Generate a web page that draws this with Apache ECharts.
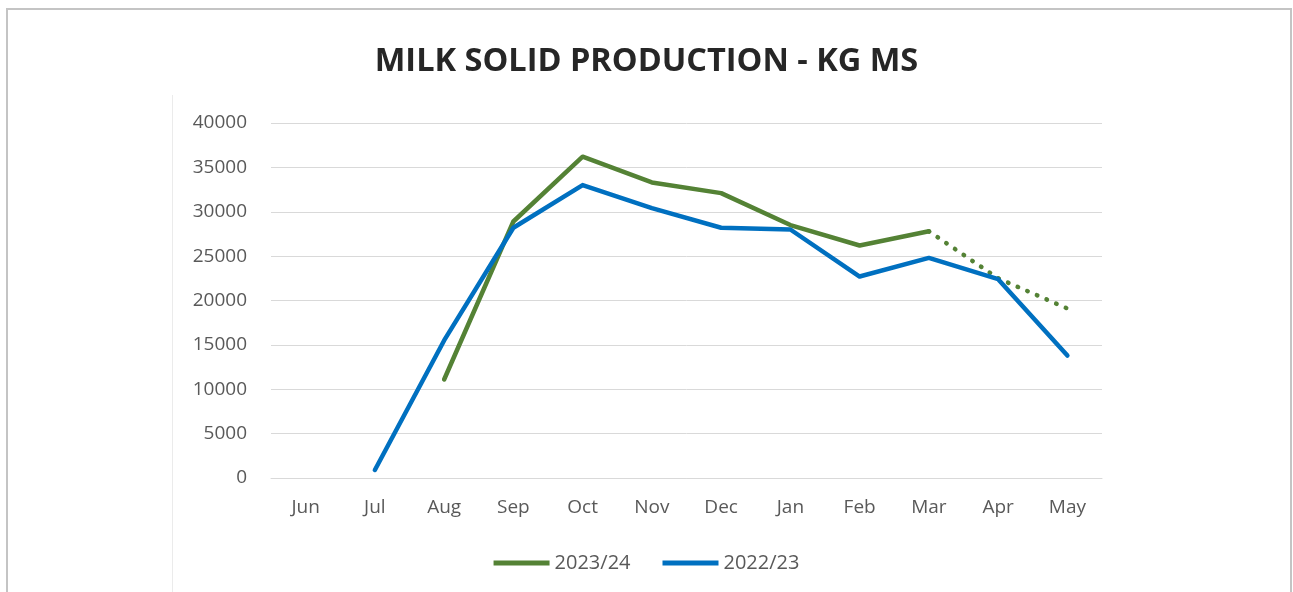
<!DOCTYPE html>
<html>
<head>
<meta charset="utf-8">
<title>Milk Solid Production - KG MS</title>
<script src="https://cdn.jsdelivr.net/npm/echarts@6/dist/echarts.min.js"></script>
<style>
  html, body { margin: 0; padding: 0; background: #ffffff; }
  #chart { width: 1293px; height: 592px; }
</style>
</head>
<body>
<div id="chart"></div>
<script>
// Season months (June to May)
const months = ['Jun', 'Jul', 'Aug', 'Sep', 'Oct', 'Nov', 'Dec', 'Jan', 'Feb', 'Mar', 'Apr', 'May'];

// Kg of milk solids per month
const season2324 = [null, null, 11100, 28900, 36200, 33300, 32100, 28500, 26200, 27800, null, null];
// Projected remainder of the 2023/24 season (dotted)
const forecast2324 = [null, null, null, null, null, null, null, null, null, 27800, 22500, 19100];
const season2223 = [null, 900, 15500, 28200, 33000, 30400, 28200, 28000, 22700, 24800, 22400, 13800];

// Y axis ticks
const yMin = 0;
const yMax = 40000;
const yStep = 5000;

const GREEN = '#548235';
const BLUE = '#0070C0';
const LABEL = '#595959';

const chart = echarts.init(document.getElementById('chart'), null, { renderer: 'canvas' });

chart.setOption({
  animation: false,
  backgroundColor: '#ffffff',
  title: {
    text: 'MILK SOLID PRODUCTION - KG MS',
    left: 'center',
    top: 40,
    textStyle: {
      fontFamily: 'Open Sans',
      fontWeight: 700,
      fontSize: 32.5,
      color: '#262626'
    }
  },
  graphic: [
    {
      type: 'rect',
      shape: { x: 7, y: 9, width: 1284, height: 600 },
      style: { fill: null, stroke: '#c4c4c4', lineWidth: 2 },
      silent: true
    },
    {
      type: 'line',
      shape: { x1: 172.5, y1: 95, x2: 172.5, y2: 592 },
      style: { stroke: '#ebebeb', lineWidth: 1 },
      silent: true
    }
  ],
  legend: {
    bottom: 14,
    left: 'center',
    itemWidth: 56,
    itemHeight: 5,
    itemGap: 32,
    icon: 'rect',
    data: ['2023/24', '2022/23'],
    textStyle: { fontFamily: 'Open Sans', fontSize: 20, color: LABEL }
  },
  grid: {
    left: 271,
    right: 191,
    top: 123,
    bottom: 114,
    containLabel: false
  },
  xAxis: {
    type: 'category',
    data: months,
    boundaryGap: true,
    axisLine: { show: true, lineStyle: { color: '#d9d9d9', width: 1 } },
    axisTick: { show: false },
    axisLabel: { margin: 20, fontFamily: 'Open Sans', fontSize: 19, color: LABEL }
  },
  yAxis: {
    type: 'value',
    min: yMin,
    max: yMax,
    interval: yStep,
    axisLine: { show: false },
    axisTick: { show: false },
    splitLine: { lineStyle: { color: '#d9d9d9', width: 1 } },
    axisLabel: {
      margin: 24,
      fontFamily: 'Open Sans',
      fontSize: 19,
      color: LABEL,
      formatter: (v) => String(v)
    }
  },
  series: [
    {
      name: '2023/24',
      type: 'line',
      data: season2324,
      showSymbol: false,
      symbol: 'none',
      itemStyle: { color: GREEN },
      lineStyle: { color: GREEN, width: 4.5, cap: 'round', join: 'round' }
    },
    {
      name: '2023/24 forecast',
      type: 'line',
      data: forecast2324,
      showSymbol: false,
      symbol: 'none',
      itemStyle: { color: GREEN },
      lineStyle: { color: GREEN, width: 4.5, type: [0.5, 10], cap: 'round', join: 'round' }
    },
    {
      name: '2022/23',
      type: 'line',
      data: season2223,
      showSymbol: false,
      symbol: 'none',
      itemStyle: { color: BLUE },
      lineStyle: { color: BLUE, width: 4.5, cap: 'round', join: 'round' }
    }
  ]
});
</script>
</body>
</html>
